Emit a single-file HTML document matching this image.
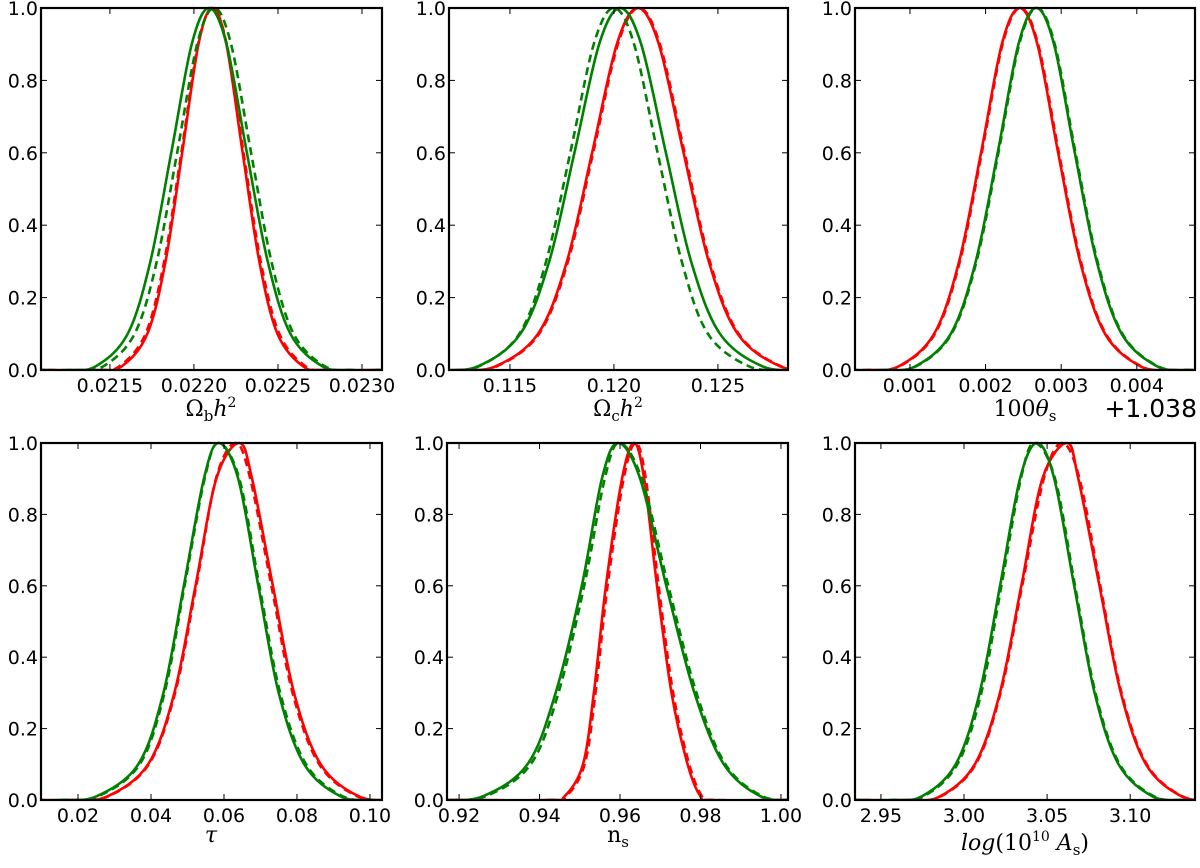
<!DOCTYPE html>
<html><head><meta charset="utf-8"><style>
html,body{margin:0;padding:0;background:#fff;}
svg{display:block;}
.tk{font-family:"DejaVu Sans","Liberation Sans",sans-serif;font-size:19px;fill:#000;}
.al{font-family:"DejaVu Serif","Liberation Serif",serif;font-size:22px;fill:#000;}
</style></head><body>
<svg id="fig" width="1200" height="868" viewBox="0 0 1200 868" xmlns="http://www.w3.org/2000/svg"></svg>
<script>
// shared y-levels at which x positions were read
const levels = [0.01,0.1,0.3,0.6,0.9,1,0.9,0.6,0.3,0.1,0.01];
// panel 1: Omega_b h^2
const obRS = [0.02157,0.021723,0.021831,0.02193,0.022027,0.02211,0.022193,0.02229,0.022389,0.022497,0.02265];
const obRD = [0.021555,0.021712,0.021823,0.021925,0.022025,0.02211,0.022195,0.022295,0.022397,0.022508,0.022665];
const obGS = [0.021415,0.021606,0.021741,0.021865,0.021987,0.02209,0.022194,0.022315,0.022439,0.022574,0.022765];
const obGD = [0.02146,0.021647,0.021779,0.0219,0.022019,0.02212,0.022221,0.02234,0.022461,0.022593,0.02278];
const obTicks = ["0.0215","0.0220","0.0225","0.0230"];
// panel 2: Omega_c h^2
const ocRS = [0.1143,0.11635,0.11774,0.11895,0.12014,0.12115,0.12216,0.12335,0.12456,0.12595,0.128];
const ocRD = [0.11435,0.1164,0.11779,0.119,0.12019,0.1212,0.12221,0.1234,0.12461,0.126,0.12805];
const ocGS = [0.11345,0.1155,0.11689,0.1181,0.11929,0.1203,0.12131,0.1225,0.12371,0.1251,0.12715];
const ocGD = [0.1135,0.11545,0.11674,0.1179,0.11903,0.1200,0.12097,0.1221,0.12326,0.12452,0.1265];
const ocTicks = ["0.115","0.120","0.125"];
// panel 3: 100 theta_s - 1.038
const thRS = [0.00085,0.00132,0.00165,0.00194,0.002215,0.00245,0.002685,0.00296,0.00325,0.00358,0.00405];
const thRD = [0.00086,0.00133,0.00166,0.00195,0.002225,0.00246,0.002695,0.00297,0.00326,0.00359,0.00406];
const thGS = [0.00107,0.00154,0.00187,0.00216,0.002435,0.00267,0.002905,0.00318,0.00347,0.0038,0.00427];
const thGD = [0.00108,0.00155,0.00188,0.00217,0.002445,0.00268,0.002915,0.00319,0.00348,0.00381,0.00428];
const thTicks = ["0.001","0.002","0.003","0.004"];
// panel 4: tau
const tauRS = [0.028,0.0392,0.0464,0.0522,0.0579,0.0642,0.0677,0.0734,0.0792,0.0865,0.097];
const tauRD = [0.0282,0.0394,0.0466,0.0524,0.0578,0.0632,0.0672,0.073,0.0788,0.0861,0.0966];
const tauGS = [0.025,0.0365,0.0434,0.049,0.0545,0.0585,0.0639,0.0694,0.075,0.082,0.092];
const tauGD = [0.0254,0.0369,0.0437,0.0492,0.0547,0.0585,0.0642,0.0697,0.0754,0.0825,0.0926];
const tauTicks = ["0.02","0.04","0.06","0.08","0.10"];
// panel 5: n_s
const nsRS = [0.9462,0.9508,0.9535,0.9565,0.9605,0.9635,0.966,0.9692,0.9728,0.9768,0.9800];
const nsRD = [0.9466,0.9512,0.9539,0.9569,0.9609,0.9639,0.9664,0.9696,0.9732,0.9772,0.9804];
const nsGS = [0.9258,0.937,0.944,0.9505,0.9555,0.9595,0.965,0.9715,0.9785,0.9858,0.995];
const nsGD = [0.9265,0.9378,0.9447,0.9511,0.9562,0.9598,0.9654,0.972,0.979,0.9862,0.9955];
const nsTicks = ["0.92","0.94","0.96","0.98","1.00"];
// panel 6: log(10^10 A_s)
const asRS = [2.9855,3.0065,3.0216,3.0345,3.0472,3.062,3.0688,3.0815,3.0944,3.1095,3.131];
const asRD = [2.986,3.007,3.022,3.035,3.048,3.059,3.0695,3.082,3.0948,3.11,3.1315];
const asGS = [2.9745,2.995,3.0094,3.0217,3.0337,3.044,3.0543,3.0663,3.0786,3.093,3.1135];
const asGD = [2.9755,2.996,3.0104,3.0225,3.0342,3.0425,3.0548,3.0668,3.0791,3.0937,3.1144];
const asTicks = ["2.95","3.00","3.05","3.10"];
const yTicks = ["0.0","0.2","0.4","0.6","0.8","1.0"];

const NS='http://www.w3.org/2000/svg';
const svg=document.getElementById('fig');
function mk(tag,attrs,parent){const e=document.createElementNS(NS,tag);for(const k in attrs)e.setAttribute(k,attrs[k]);(parent||svg).appendChild(e);return e;}

const panels=[
 {id:'omega-b',L:41,R:382,T:8,B:370,xmin:0.02109,xmax:0.023119,ticks:obTicks,c:[obRS,obRD,obGS,obGD]},
 {id:'omega-c',L:449,R:788,T:8,B:370,xmin:0.11207,xmax:0.12837,ticks:ocTicks,c:[ocRS,ocRD,ocGS,ocGD]},
 {id:'theta',L:855,R:1195,T:8,B:370,xmin:0.000273,xmax:0.00477,ticks:thTicks,c:[thRS,thRD,thGS,thGD]},
 {id:'tau',L:41,R:382,T:443,B:800,xmin:0.00986,xmax:0.1033,ticks:tauTicks,c:[tauRS,tauRD,tauGS,tauGD]},
 {id:'ns',L:447,R:788,T:443,B:800,xmin:0.917,xmax:1.00175,ticks:nsTicks,c:[nsRS,nsRD,nsGS,nsGD]},
 {id:'as',L:855,R:1195,T:443,B:800,xmin:2.9344,xmax:3.139,ticks:asTicks,c:[asRS,asRD,asGS,asGD]}
];
const styles=[['#ff0000',null,'red-solid'],['#ff0000','8 5','red-dashed'],['#008000',null,'green-solid'],['#008000','8 5','green-dashed']];

function crPath(pts){
 let d='M'+pts[0][0].toFixed(2)+','+pts[0][1].toFixed(2);
 for(let i=0;i<pts.length-1;i++){
  const p0=pts[Math.max(0,i-1)],p1=pts[i],p2=pts[i+1],p3=pts[Math.min(pts.length-1,i+2)];
  const c1=[p1[0]+(p2[0]-p0[0])/6,p1[1]+(p2[1]-p0[1])/6];
  const c2=[p2[0]-(p3[0]-p1[0])/6,p2[1]-(p3[1]-p1[1])/6];
  d+='C'+c1[0].toFixed(2)+','+c1[1].toFixed(2)+' '+c2[0].toFixed(2)+','+c2[1].toFixed(2)+' '+p2[0].toFixed(2)+','+p2[1].toFixed(2);
 }
 return d;
}

panels.forEach(p=>{
 const g=mk('g',{});
 
 
 const xs=v=>p.L+(v-p.xmin)/(p.xmax-p.xmin)*(p.R-p.L);
 const ys=v=>p.B-v*(p.B-p.T);
 const cid='clip-'+p.id;
 const cp=mk('clipPath',{id:cid},g);mk('rect',{x:p.L,y:p.T-2,width:p.R-p.L,height:p.B-p.T+2},cp);
 p.c.forEach((arr,k)=>{
  const pts=arr.map((x,i)=>[xs(x),ys(levels[i])]);
  const n=pts.length;
  const ext0=[pts[0][0]-(pts[1][0]-pts[0][0])*0.9,ys(0)];
  const extN=[pts[n-1][0]+(pts[n-1][0]-pts[n-2][0])*0.9,ys(0)];
  const all=[[p.L-5,ys(0)],ext0].concat(pts,[extN,[p.R+5,ys(0)]]);
  const path=mk('path',{d:crPath(all),fill:'none',stroke:styles[k][0],'stroke-width':2.6,'clip-path':'url(#'+cid+')'},g);
  if(styles[k][1])path.setAttribute('stroke-dasharray',styles[k][1]);
  
  
 });
 const fr=mk('rect',{x:p.L,y:p.T,width:p.R-p.L,height:p.B-p.T,fill:'none',stroke:'#000','stroke-width':2.2},g);
 
 
 yTicks.forEach(t=>{
  const y=ys(parseFloat(t));
  mk('line',{x1:p.L,x2:p.L+6,y1:y,y2:y,stroke:'#000','stroke-width':1},g);
  mk('line',{x1:p.R,x2:p.R-6,y1:y,y2:y,stroke:'#000','stroke-width':1},g);
  const tx=mk('text',{x:p.L-3,y:y+7,'text-anchor':'end',class:'tk'},g);
  tx.textContent=t;
  
  
 });
 p.ticks.forEach(t=>{
  const x=xs(parseFloat(t));
  mk('line',{x1:x,x2:x,y1:p.B,y2:p.B-6,stroke:'#000','stroke-width':1},g);
  mk('line',{x1:x,x2:x,y1:p.T,y2:p.T+6,stroke:'#000','stroke-width':1},g);
  const tx=mk('text',{x:x,y:p.B+22,'text-anchor':'middle',class:'tk'},g);
  tx.textContent=t;
  
  
 });
});
</script>
<svg style="position:absolute;left:0;top:0" width="1200" height="868">
 <text class="al" x="211" y="416" text-anchor="middle">Ω<tspan font-size="15" dy="5">b</tspan><tspan dy="-5" font-style="italic">h</tspan><tspan font-size="14" dy="-9">2</tspan></text>
 <text class="al" x="618" y="416" text-anchor="middle">Ω<tspan font-size="15" dy="5">c</tspan><tspan dy="-5" font-style="italic">h</tspan><tspan font-size="14" dy="-9">2</tspan></text>
 <text class="al" x="1025" y="416" text-anchor="middle">100<tspan font-style="italic">θ</tspan><tspan font-size="15" dy="5">s</tspan></text>
 <text x="1197" y="417" text-anchor="end" font-family="DejaVu Sans, Liberation Sans, sans-serif" font-size="25">+1.038</text>
 <text class="al" x="211" y="842" text-anchor="middle" font-style="italic">τ</text>
 <text class="al" x="618" y="842" text-anchor="middle">n<tspan font-size="15" dy="5">s</tspan></text>
 <text class="al" x="1025" y="850" text-anchor="middle"><tspan font-style="italic">log</tspan>(10<tspan font-size="14" dy="-9">10</tspan><tspan dy="9" font-style="italic"> A</tspan><tspan font-size="15" dy="5">s</tspan><tspan dy="-5">)</tspan></text>
</svg>
</body></html>
